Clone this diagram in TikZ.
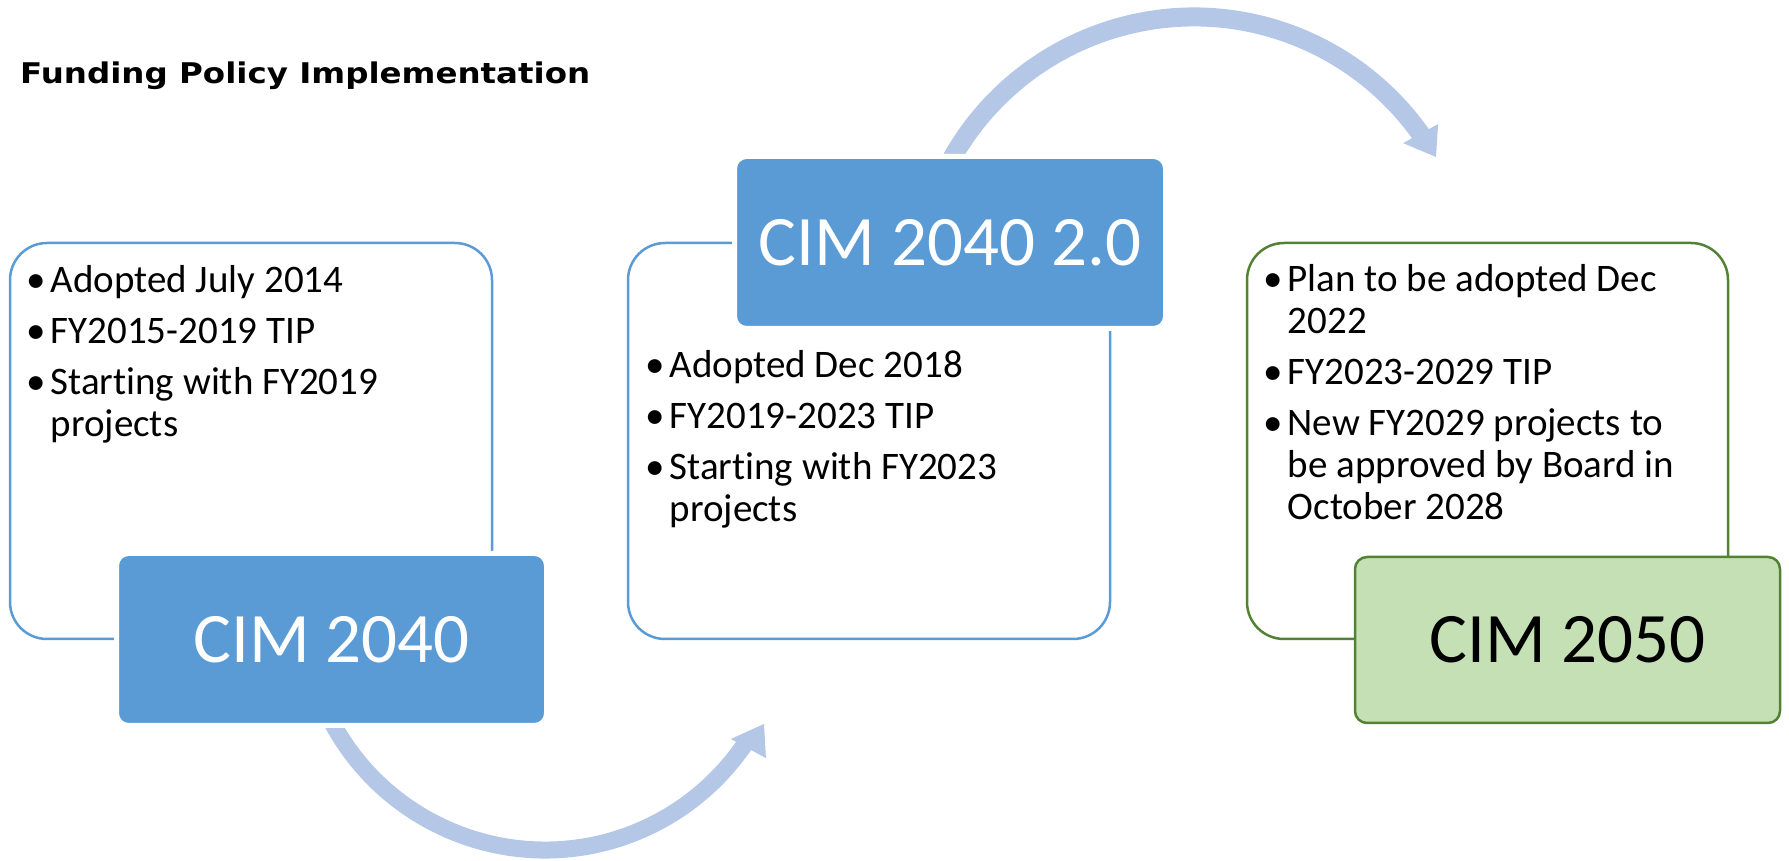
\documentclass[tikz,border=0pt]{standalone}
\usepackage{fontspec}
\setmainfont{Carlito}[Ligatures=NoCommon, RawFeature={-clig;-calt;-dlig}]
\newfontfamily\titlefont{DejaVu Sans}[FakeStretch=1.14]
\usetikzlibrary{calc}

\definecolor{boxblue}{HTML}{5B9BD5}
\definecolor{arrowblue}{HTML}{B4C7E7}
\definecolor{leafgreen}{HTML}{548235}
\definecolor{palegreen}{HTML}{C5E0B4}

% one bullet paragraph; continuation lines hang under the text
\newcommand{\bitem}[1]{\par\hangindent=24pt\hangafter=1\noindent\makebox[24pt][l]{\textbullet}#1}
\newcommand{\bulletlist}[1]{\parbox[t]{470pt}{\fontsize{39}{42}\selectfont\setlength{\parskip}{9pt}#1}}

\begin{document}
\begin{tikzpicture}[x=1pt,y=1pt,
  outline/.style={draw, line width=2.5pt, rounded corners=37pt,
    minimum width=482pt, minimum height=396pt, inner sep=0pt},
  phasebox/.style={rounded corners=12pt, inner sep=0pt,
    font=\fontsize{71}{80}\selectfont},
  bluephase/.style={phasebox, fill=boxblue, draw=white, line width=5pt,
    text=white, minimum width=430pt, minimum height=172pt},
  greenphase/.style={phasebox, fill=palegreen, draw=leafgreen, line width=2.5pt,
    text=black, minimum width=425pt, minimum height=166pt},
  bullets/.style={anchor=base west, inner sep=0pt},
  flow/.style={draw=arrowblue, line cap=butt},
  flowhead/.style={fill=arrowblue}
]
\useasboundingbox (0,0) rectangle (1789,860);

% title
\node[anchor=base west, inner sep=0pt,
      font=\titlefont\bfseries\fontsize{28.5}{34}\selectfont] (title) at (20,776)
  {Funding Policy Implementation};

% detail frames
\node[outline, draw=boxblue]   (frame1) at (251,419) {};
\node[outline, draw=boxblue]   (frame2) at (869,419) {};
\node[outline, draw=leafgreen, minimum width=481pt] (frame3) at (1487.5,419) {};

% curved flow arrows
\coordinate (cB) at (545,251.5);
\coordinate (cT) at (1194,565);
\coordinate (flow1start) at ($(cB)+(205:241.5)$);
\coordinate (flow2start) at ($(cT)+(156:278)$);

\draw[flow, line width=17pt] (flow1start) arc[start angle=205, end angle=326.5, radius=241.5];
\fill[flowhead] ($(cB)+(324.9:227)$) -- ($(cB)+(332.2:247.6)$) -- ($(cB)+(325.9:266.8)$) -- cycle;

\draw[flow, line width=19pt] (flow2start) arc[start angle=156, end angle=35, radius=278];
\fill[flowhead] ($(cT)+(36:258.4)$) -- ($(cT)+(29.7:278.6)$) -- ($(cT)+(35:298)$) -- cycle;

% phase boxes
\node[bluephase]  (cim2040) at (331.5,220.5) {CIM 2040};
\node[bluephase, minimum width=431pt] (cim2040v2) at (950,617.5) {CIM 2040 2.0};
\node[greenphase] (cim2050) at (1567.5,220) {CIM 2050};

% bullet lists
\node[bullets] (list1) at (26.5,567.5) {\bulletlist{%
  \bitem{Adopted July 2014}%
  \bitem{FY2015-2019 TIP}%
  \bitem{Starting with FY2019\newline projects}}};

\node[bullets] (list2) at (645.5,482.5) {\bulletlist{%
  \bitem{Adopted Dec 2018}%
  \bitem{FY2019-2023 TIP}%
  \bitem{Starting with FY2023\newline projects}}};

\node[bullets] (list3) at (1263.5,568) {\bulletlist{%
  \bitem{Plan to be adopted Dec\newline 2022}%
  \bitem{FY2023-2029 TIP}%
  \bitem{New FY2029 projects to\newline be approved by Board in\newline October 2028}}};

\end{tikzpicture}
\end{document}
